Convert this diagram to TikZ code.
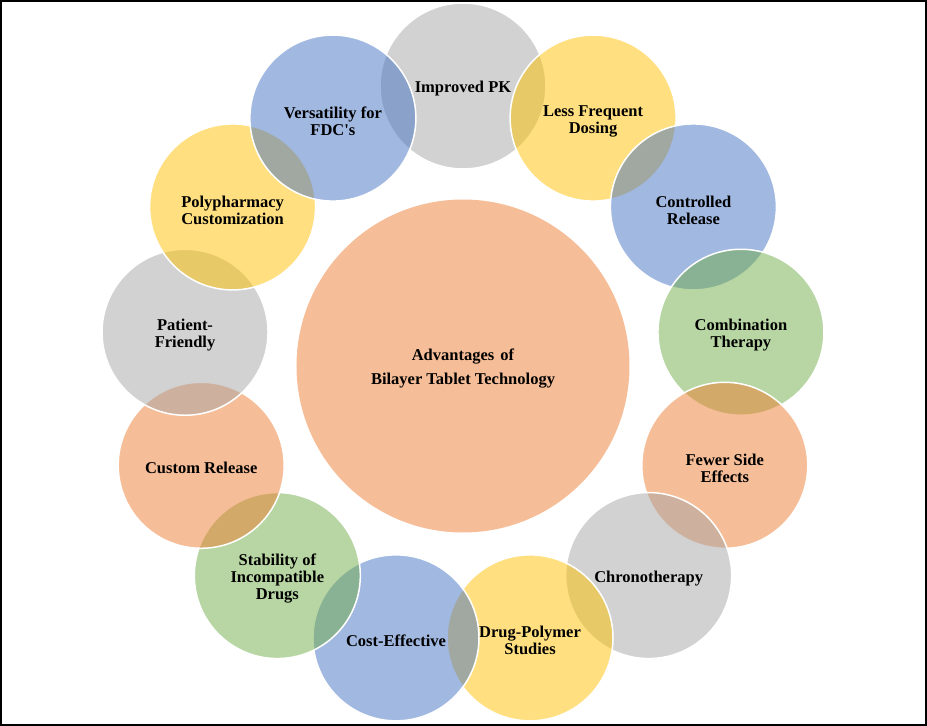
\documentclass[tikz,border=0pt]{standalone}
\usepackage{fontspec}
\setmainfont{Liberation Serif}
\usepackage{tikz}
\usetikzlibrary{positioning}
\definecolor{accblue}{HTML}{4472C4}
\definecolor{accorange}{HTML}{ED7D31}
\definecolor{accgray}{HTML}{A5A5A5}
\definecolor{accgold}{HTML}{FFC000}
\definecolor{accgreen}{HTML}{70AD47}
\tikzstyle{bubble}  = [circle, minimum size=166pt, inner sep=0pt, draw=white, line width=1.5pt, fill opacity=0.5]
\tikzstyle{hub}     = [circle, minimum size=333pt, inner sep=0pt, fill=accorange, fill opacity=0.5]
\tikzstyle{caption} = [align=center, yshift=-3pt, text opacity=1, opacity=1, inner sep=0pt, font=\bfseries\fontsize{16.5}{17}\selectfont]

\begin{document}
\begin{tikzpicture}[x=1pt,y=1pt]
		\useasboundingbox (-463,-360) rectangle (464,366);
		\draw[line width=2.5pt] (-462,-359) rectangle (463,365);

		\node[hub, label={[caption, font=\bfseries\fontsize{16.5}{24}\selectfont]center:Advantages \hspace{2pt}of\\Bilayer Tablet Technology}] (hub) at (0,0) {};

		\node[bubble, fill=accgray,   label={[caption]center:Improved PK}]                    (pk)      at (90:280)      {};
		\node[bubble, fill=accgold,   label={[caption]center:Less Frequent\\Dosing}]          (dosing)  at (62.31:280)   {};
		\node[bubble, fill=accblue,   label={[caption]center:Controlled\\Release}]            (release) at (34.62:280)   {};
		\node[bubble, fill=accgreen,  label={[caption]center:Combination\\Therapy}]           (combo)   at (6.92:280)    {};
		\node[bubble, fill=accorange, label={[caption]center:Fewer Side\\Effects}]            (fewer)   at (-20.77:280)  {};
		\node[bubble, fill=accgray,   label={[caption]center:Chronotherapy}]                  (chrono)  at (-48.46:280)  {};
		\node[bubble, fill=accgold,   label={[caption]center:Drug-Polymer\\Studies}]          (polymer) at (-76.15:280)  {};
		\node[bubble, fill=accblue,   label={[caption]center:Cost-Effective}]                 (cost)    at (-103.85:280) {};
		\node[bubble, fill=accgreen,  label={[caption]center:Stability of\\Incompatible\\Drugs}] (stable) at (-131.54:280) {};
		\node[bubble, fill=accorange, label={[caption]center:Custom Release}]                 (custom)  at (-159.23:280) {};
		\node[bubble, fill=accgray,   label={[caption]center:Patient-\\Friendly}]             (patient) at (173.08:280)  {};
		\node[bubble, fill=accgold,   label={[caption]center:Polypharmacy\\Customization}]    (poly)    at (145.38:280)  {};
		\node[bubble, fill=accblue,   label={[caption]center:Versatility for\\FDC\textquotesingle s}] (fdc) at (117.69:280) {};
	\end{tikzpicture}
\end{document}
